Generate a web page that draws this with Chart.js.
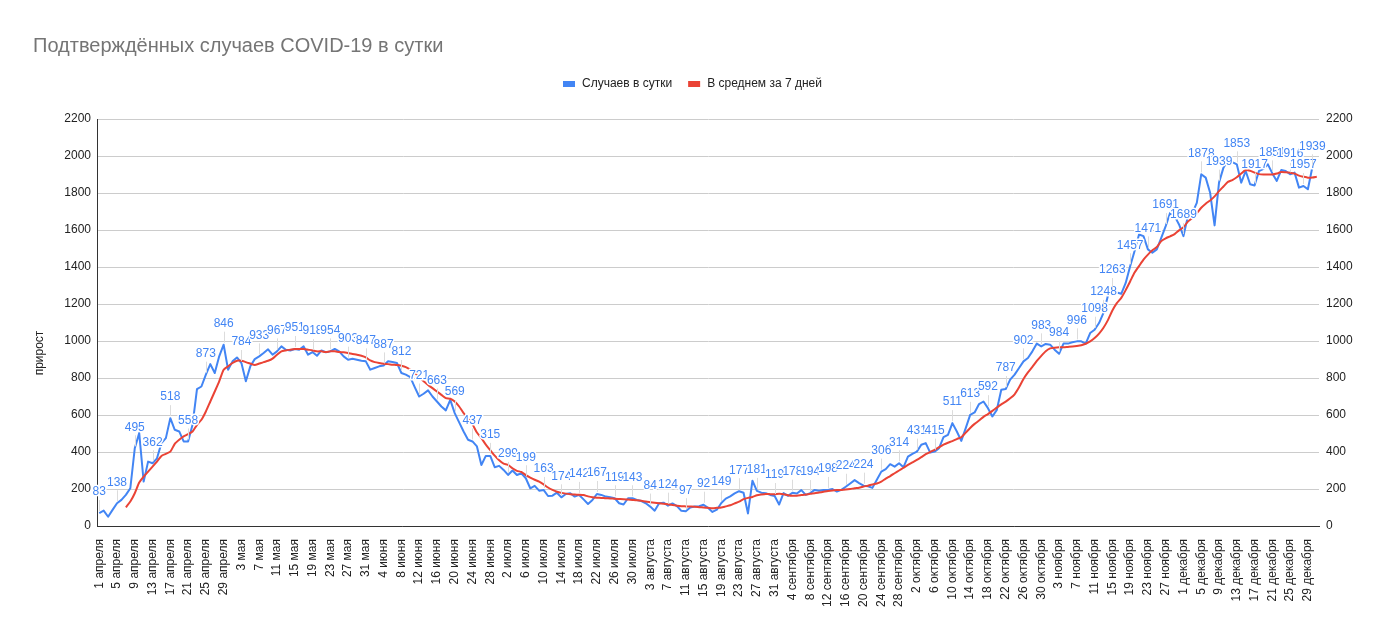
<!DOCTYPE html>
<html>
<head>
<meta charset="utf-8">
<title>Подтверждённых случаев COVID-19 в сутки</title>
<script src="https://cdn.jsdelivr.net/npm/chart.js"></script>
<style>
  body { margin: 0; background: #fff; }
  #wrap { width: 1387px; height: 635px; }
</style>
</head>
<body>
<div id="wrap"><canvas id="covidChart" width="1387" height="635"></canvas></div>
<script>
// categories: one point per day, 1 April .. 31 December
const monthNames = ['апреля', 'мая', 'июня', 'июля', 'августа', 'сентября', 'октября', 'ноября', 'декабря'];
const monthDays = [30, 31, 30, 31, 31, 30, 31, 30, 31];

// "Случаев в сутки"
const dailyCases = [
  70, 83, 50, 87, 123, 141, 168, 204, 420, 502,
  240, 348, 339, 366, 448, 475, 583, 520, 511, 457,
  457, 547, 740, 754, 818, 875, 827, 917, 980, 845,
  890, 911, 881, 782, 863, 902, 917, 935, 955, 926,
  944, 971, 953, 949, 957, 953, 971, 926, 940, 920,
  949, 939, 944, 957, 944, 917, 899, 904, 899, 893,
  890, 845, 854, 863, 868, 890, 886, 881, 827, 818,
  805, 751, 700, 715, 733, 700, 673, 646, 625, 682,
  610, 560, 511, 466, 457, 430, 330, 379, 379, 318,
  325, 303, 276, 300, 276, 285, 258, 204, 217, 191,
  195, 162, 164, 180, 155, 173, 177, 159, 168, 144,
  119, 141, 173, 168, 159, 155, 150, 123, 116, 150,
  150, 141, 135, 123, 105, 83, 123, 126, 110, 122,
  108, 82, 80, 100, 105, 107, 115, 98, 76, 88,
  124, 148, 160, 176, 188, 180, 68, 245, 190, 180,
  177, 168, 162, 116, 178, 163, 180, 176, 194, 168,
  178, 195, 190, 195, 195, 200, 186, 195, 212, 230,
  248, 232, 218, 215, 206, 250, 294, 307, 334, 321,
  339, 318, 375, 390, 402, 439, 448, 397, 402, 421,
  480, 493, 556, 511, 460, 529, 601, 614, 659, 673,
  637, 592, 628, 736, 740, 791, 818, 854, 890, 908,
  944, 986, 971, 984, 980, 953, 931, 986, 986, 993,
  998, 998, 986, 1043, 1061, 1097, 1152, 1245, 1270, 1262,
  1255, 1314, 1404, 1486, 1576, 1567, 1495, 1477, 1495, 1558,
  1621, 1693, 1675, 1630, 1567, 1675, 1693, 1747, 1901, 1883,
  1801, 1625, 1856, 1937, 1976, 1967, 1955, 1856, 1919, 1847,
  1841, 1919, 1931, 1955, 1906, 1865, 1924, 1919, 1901, 1910,
  1829, 1838, 1820, 1939, null
];

// "В среднем за 7 дней"
const weeklyAverage = [
  null, null, null, null, null, null, 101, 132, 177, 235,
  267, 294, 321, 348, 379, 390, 402, 444, 466, 484,
  496, 511, 547, 574, 619, 673, 727, 782, 845, 863,
  881, 893, 893, 886, 878, 870, 878, 886, 893, 905,
  926, 944, 949, 953, 957, 957, 957, 953, 949, 944,
  944, 940, 944, 944, 940, 939, 935, 930, 926, 920,
  911, 895, 886, 881, 877, 875, 872, 870, 866, 859,
  845, 827, 805, 782, 763, 745, 727, 709, 691, 688,
  673, 646, 610, 583, 550, 505, 475, 440, 410, 380,
  355, 337, 330, 312, 298, 292, 275, 262, 250, 240,
  225, 208, 195, 185, 179, 175, 172, 170, 169, 167,
  160, 155, 153, 152, 150, 149, 147, 146, 145, 143,
  141, 139, 136, 132, 129, 126, 123, 120, 117, 114,
  110, 107, 106, 105, 104, 102, 100, 98, 96, 98,
  100, 106, 112, 122, 132, 145, 152, 157, 166, 170,
  173, 172, 171, 174, 172, 166, 163, 164, 167, 170,
  174, 177, 181, 185, 189, 192, 194, 195, 197, 200,
  204, 207, 213, 218, 224, 230, 240, 256, 270, 285,
  300, 315, 330, 344, 357, 372, 388, 400, 412, 426,
  440, 450, 459, 470, 480, 505, 530, 552, 570, 590,
  605, 622, 640, 657, 672, 690, 712, 750, 795, 830,
  860, 892, 920, 945, 960, 964, 966, 966, 968, 970,
  973, 977, 985, 998, 1016, 1040, 1072, 1113, 1165, 1205,
  1233, 1275, 1322, 1370, 1405, 1440, 1467, 1490, 1508, 1540,
  1555, 1566, 1578, 1598, 1615, 1645, 1665, 1690, 1720, 1742,
  1760, 1782, 1810, 1835, 1860, 1870, 1885, 1905, 1924, 1920,
  1910, 1902, 1900, 1900, 1900, 1905, 1913, 1912, 1910, 1905,
  1894, 1888, 1883, 1884, 1888
];

// data labels shown on the daily series: point index and text
const labelPoints = [
  0, 4, 8, 12, 16, 20, 24, 28, 32, 36, 40, 44, 48, 52, 56, 60, 64, 68, 72, 76,
  80, 84, 88, 92, 96, 100, 104, 108, 112, 116, 120, 124, 128, 132, 136, 140, 144, 148, 152, 156,
  160, 164, 168, 172, 176, 180, 184, 188, 192, 196, 200, 204, 208, 212, 216, 220, 224, 226, 228, 232,
  236, 240, 244, 248, 252, 256, 260, 264, 268, 271, 273
];
const labelTexts = [
  '83', '138', '495', '362', '518', '558', '873', '846', '784', '933', '967', '951', '918', '954', '903', '847', '887', '812', '721', '663',
  '569', '437', '315', '299', '199', '163', '174', '142', '167', '119', '143', '84', '124', '97', '92', '149', '177', '181', '119', '178',
  '194', '198', '224', '224', '306', '314', '431', '415', '511', '613', '592', '787', '902', '983', '984', '996', '1098', '1248', '1263', '1457',
  '1471', '1691', '1689', '1878', '1939', '1853', '1917', '1851', '1916', '1957', '1939'
];

const yTicks = { min: 0, max: 2200, step: 200 };

const dates = [];
monthNames.forEach((m, k) => {
  for (let d = 1; d <= monthDays[k]; d++) dates.push(d + ' ' + m);
});

const FONT = '"Liberation Sans", Arial, sans-serif';
const BLUE = '#4285F4';
const RED = '#EA4335';

// title, legend, axis title and point labels
const decorPlugin = {
  id: 'decor',
  afterDatasetsDraw(chart) {
    const ctx = chart.ctx;
    const meta = chart.getDatasetMeta(0);
    ctx.save();
    ctx.font = '12px ' + FONT;
    ctx.textAlign = 'center';
    ctx.textBaseline = 'middle';
    ctx.lineJoin = 'round';
    labelPoints.forEach((idx, k) => {
      const pt = meta.data[idx];
      if (!pt) return;
      const x = pt.x, ly = pt.y - 21;
      ctx.strokeStyle = '#dcdcdc';
      ctx.lineWidth = 1;
      ctx.beginPath();
      ctx.moveTo(Math.round(x) + 0.5, ly + 8);
      ctx.lineTo(Math.round(x) + 0.5, pt.y - 2);
      ctx.stroke();
      ctx.strokeStyle = '#ffffff';
      ctx.lineWidth = 3;
      ctx.strokeText(labelTexts[k], x, ly);
      ctx.fillStyle = BLUE;
      ctx.fillText(labelTexts[k], x, ly);
    });
    ctx.restore();
  },
  afterDraw(chart) {
    const ctx = chart.ctx;
    ctx.save();
    // title
    ctx.font = '20px ' + FONT;
    ctx.fillStyle = '#757575';
    ctx.textAlign = 'left';
    ctx.textBaseline = 'alphabetic';
    ctx.fillText('Подтверждённых случаев COVID-19 в сутки', 33, 52);
    // legend
    ctx.font = '12px ' + FONT;
    ctx.fillStyle = '#222222';
    ctx.textBaseline = 'middle';
    const items = chart.data.datasets;
    let lx = 563;
    items.forEach((ds) => {
      ctx.fillStyle = ds.borderColor;
      ctx.fillRect(lx, 81, 12, 6);
      ctx.fillStyle = '#222222';
      ctx.fillText(ds.label, lx + 19, 84);
      lx += 19 + ctx.measureText(ds.label).width + 16;
    });
    // left axis title
    ctx.translate(40, 353);
    ctx.rotate(-Math.PI / 2);
    ctx.textAlign = 'center';
    ctx.fillText('прирост', 0, 0);
    ctx.restore();
  }
};

const plainNumber = (v) => String(v);

const ctx = document.getElementById('covidChart').getContext('2d');
new Chart(ctx, {
  type: 'line',
  data: {
    labels: dates,
    datasets: [
      {
        label: 'Случаев в сутки',
        data: dailyCases,
        borderColor: BLUE,
        backgroundColor: BLUE,
        borderWidth: 2,
        pointRadius: 0,
        borderJoinStyle: 'round',
        tension: 0,
        yAxisID: 'y',
        order: 1
      },
      {
        label: 'В среднем за 7 дней',
        data: weeklyAverage,
        borderColor: RED,
        backgroundColor: RED,
        borderWidth: 2,
        pointRadius: 0,
        borderJoinStyle: 'round',
        tension: 0.2,
        yAxisID: 'y',
        order: 0
      }
    ]
  },
  options: {
    responsive: false,
    animation: false,
    devicePixelRatio: 1,
    layout: { padding: { top: 119, left: 0, right: 0, bottom: 0 } },
    plugins: {
      legend: { display: false },
      title: { display: false },
      tooltip: { enabled: false }
    },
    scales: {
      x: {
        type: 'category',
        offset: true,
        grid: { display: false },
        border: { display: true, color: '#333333', width: 1 },
        ticks: {
          autoSkip: false,
          maxRotation: 90,
          minRotation: 90,
          padding: 5,
          color: '#222222',
          font: { family: FONT, size: 12 },
          callback: (v, i) => (i % 4 === 0 ? dates[i] : null)
        },
        afterFit: (scale) => { scale.height = 109; }
      },
      y: {
        position: 'left',
        min: yTicks.min,
        max: yTicks.max,
        grid: { color: '#cccccc', drawTicks: false },
        border: { display: true, color: '#333333', width: 1 },
        ticks: {
          stepSize: yTicks.step,
          padding: 6,
          color: '#222222',
          font: { family: FONT, size: 12 },
          callback: plainNumber
        },
        afterFit: (scale) => { scale.width = 97; }
      },
      y2: {
        position: 'right',
        min: yTicks.min,
        max: yTicks.max,
        grid: { display: false, drawTicks: false },
        border: { display: false },
        ticks: {
          stepSize: yTicks.step,
          padding: 7,
          color: '#222222',
          font: { family: FONT, size: 12 },
          callback: plainNumber
        },
        afterFit: (scale) => { scale.width = 68; }
      }
    }
  },
  plugins: [decorPlugin]
});
</script>
</body>
</html>
